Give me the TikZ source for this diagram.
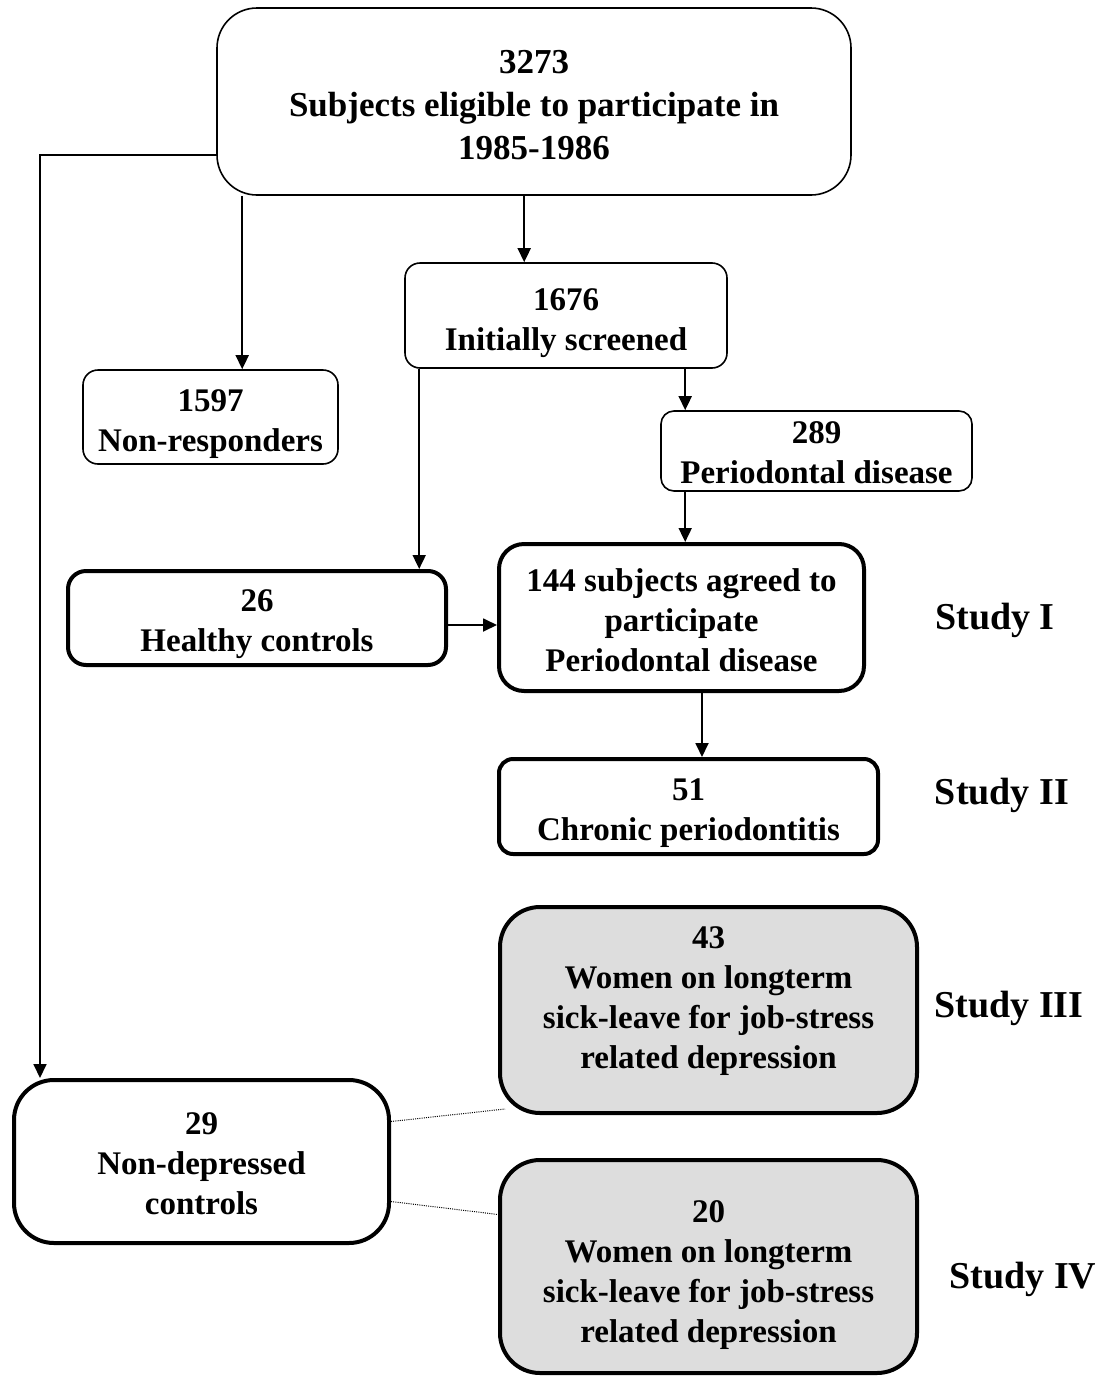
\documentclass[tikz,border=0pt]{standalone}
\usepackage{fontspec}
\setmainfont{Liberation Serif}
\usetikzlibrary{arrows.meta,calc}
\definecolor{boxgray}{RGB}{221,221,221}
\begin{document}
\begin{tikzpicture}[x=1pt,y=-1pt,
  thinbox/.style={draw,line width=1.6pt,inner sep=0pt},
  thickbox/.style={draw,line width=4pt,inner sep=0pt},
  graybox/.style={thickbox,fill=boxgray,rounded corners=40pt},
  txt/.style={align=center,inner sep=0pt,font=\bfseries\fontsize{33}{40}\selectfont},
  studylbl/.style={inner sep=0pt,font=\bfseries\fontsize{38}{44}\selectfont},
  arr/.style={line width=1.8pt,-{Triangle[length=14pt,width=13pt]}},
  dotline/.style={line width=1pt,dash pattern=on 1pt off 1.2pt}]
\useasboundingbox (0,0) rectangle (1113,1376);

% boxes
\node[thinbox,rounded corners=40pt,minimum width=634pt,minimum height=187pt] (btop) at (534,101.5) {};
\node[txt,font=\bfseries\fontsize{35}{43}\selectfont] (ttop) at ([yshift=-4pt]btop.center)
  {3273\\ Subjects eligible to participate in\\ 1985-1986};
\node[thinbox,rounded corners=15pt,minimum width=322pt,minimum height=105pt] (b1676) at (566,315.5) {};
\node[txt] (t1676) at ([yshift=-8pt]b1676.center) {1676\\ Initially screened};
\node[thinbox,rounded corners=15pt,minimum width=255pt,minimum height=94pt] (b1597) at (210.5,417) {};
\node[txt] (t1597) at ([yshift=-7pt]b1597.center) {1597\\ Non-responders};
\node[thinbox,rounded corners=13pt,minimum width=311pt,minimum height=80pt] (b289) at (816.5,451) {};
\node[txt] (t289) at ([yshift=-2pt]b289.center) {289\\ Periodontal disease};
\node[thickbox,rounded corners=18pt,minimum width=378pt,minimum height=94pt] (b26) at (257,618) {};
\node[txt] (t26) at ([yshift=-6pt]b26.center) {26\\ Healthy controls};
\node[thickbox,rounded corners=25pt,minimum width=365pt,minimum height=147pt] (b144) at (681.5,617.5) {};
\node[txt] (t144) at ([yshift=-3pt]b144.center) {144 subjects agreed to\\ participate\\ Periodontal disease};
\node[thickbox,rounded corners=14pt,minimum width=379pt,minimum height=95pt] (b51) at (688.5,806.5) {};
\node[txt] (t51) at ([yshift=-7pt]b51.center) {51\\ Chronic periodontitis};
\node[graybox,minimum width=417pt,minimum height=206pt] (b43) at (708.5,1010) {};
\node[txt] (t43) at (708.5,1001)
  {43\\ Women on longterm\\ sick-leave for job-stress\\ related depression};
\node[thickbox,rounded corners=40pt,minimum width=375pt,minimum height=163pt] (b29) at (201.5,1161.5) {};
\node[txt] (t29) at ([yshift=-2pt]b29.center) {29\\ Non-depressed\\ controls};
\node[graybox,minimum width=417pt,minimum height=213pt] (b20) at (708.5,1266.5) {};
\node[txt] (t20) at (708.5,1275)
  {20\\ Women on longterm\\ sick-leave for job-stress\\ related depression};

\node[studylbl] (s1) at (995,620) {Study I};
\node[studylbl] (s2) at (1002,795) {Study II};
\node[studylbl] (s3) at (1009,1008) {Study III};
\node[studylbl] (s4) at (1023,1279) {Study IV};

% connectors
\coordinate (p1) at ([xshift=26pt]btop.south west);
\draw[arr] (p1) -- (p1 |- b1597.north);
\coordinate (p2) at ([xshift=308pt]btop.south west);
\draw[arr] (p2) -- (p2 |- b1676.north);
\coordinate (p3) at ([xshift=15pt]b1676.south west);
\draw[arr] (p3) -- (p3 |- b26.north);
\coordinate (p4) at ([xshift=281pt]b1676.south west);
\draw[arr] (p4) -- (p4 |- b289.north);
\coordinate (p5) at ([xshift=25pt]b289.south west);
\draw[arr] (p5) -- (p5 |- b144.north);
\coordinate (p6) at ([yshift=-7pt]b26.east);
\draw[arr] (p6) -- (p6 -| b144.west);
\coordinate (p7) at ([xshift=205pt]b144.south west);
\draw[arr] (p7) -- (p7 |- b51.north);
\coordinate (p8) at ([yshift=-53.5pt]btop.west);
\draw[arr] (p8) -| ([xshift=28pt]b29.north west);

\draw[dotline] ([yshift=40pt]b29.east) -- ([xshift=7pt,yshift=6pt]b43.south west);
\draw[dotline] ([yshift=-40pt]b29.east) -- ([yshift=52pt]b20.west);
\end{tikzpicture}
\end{document}
